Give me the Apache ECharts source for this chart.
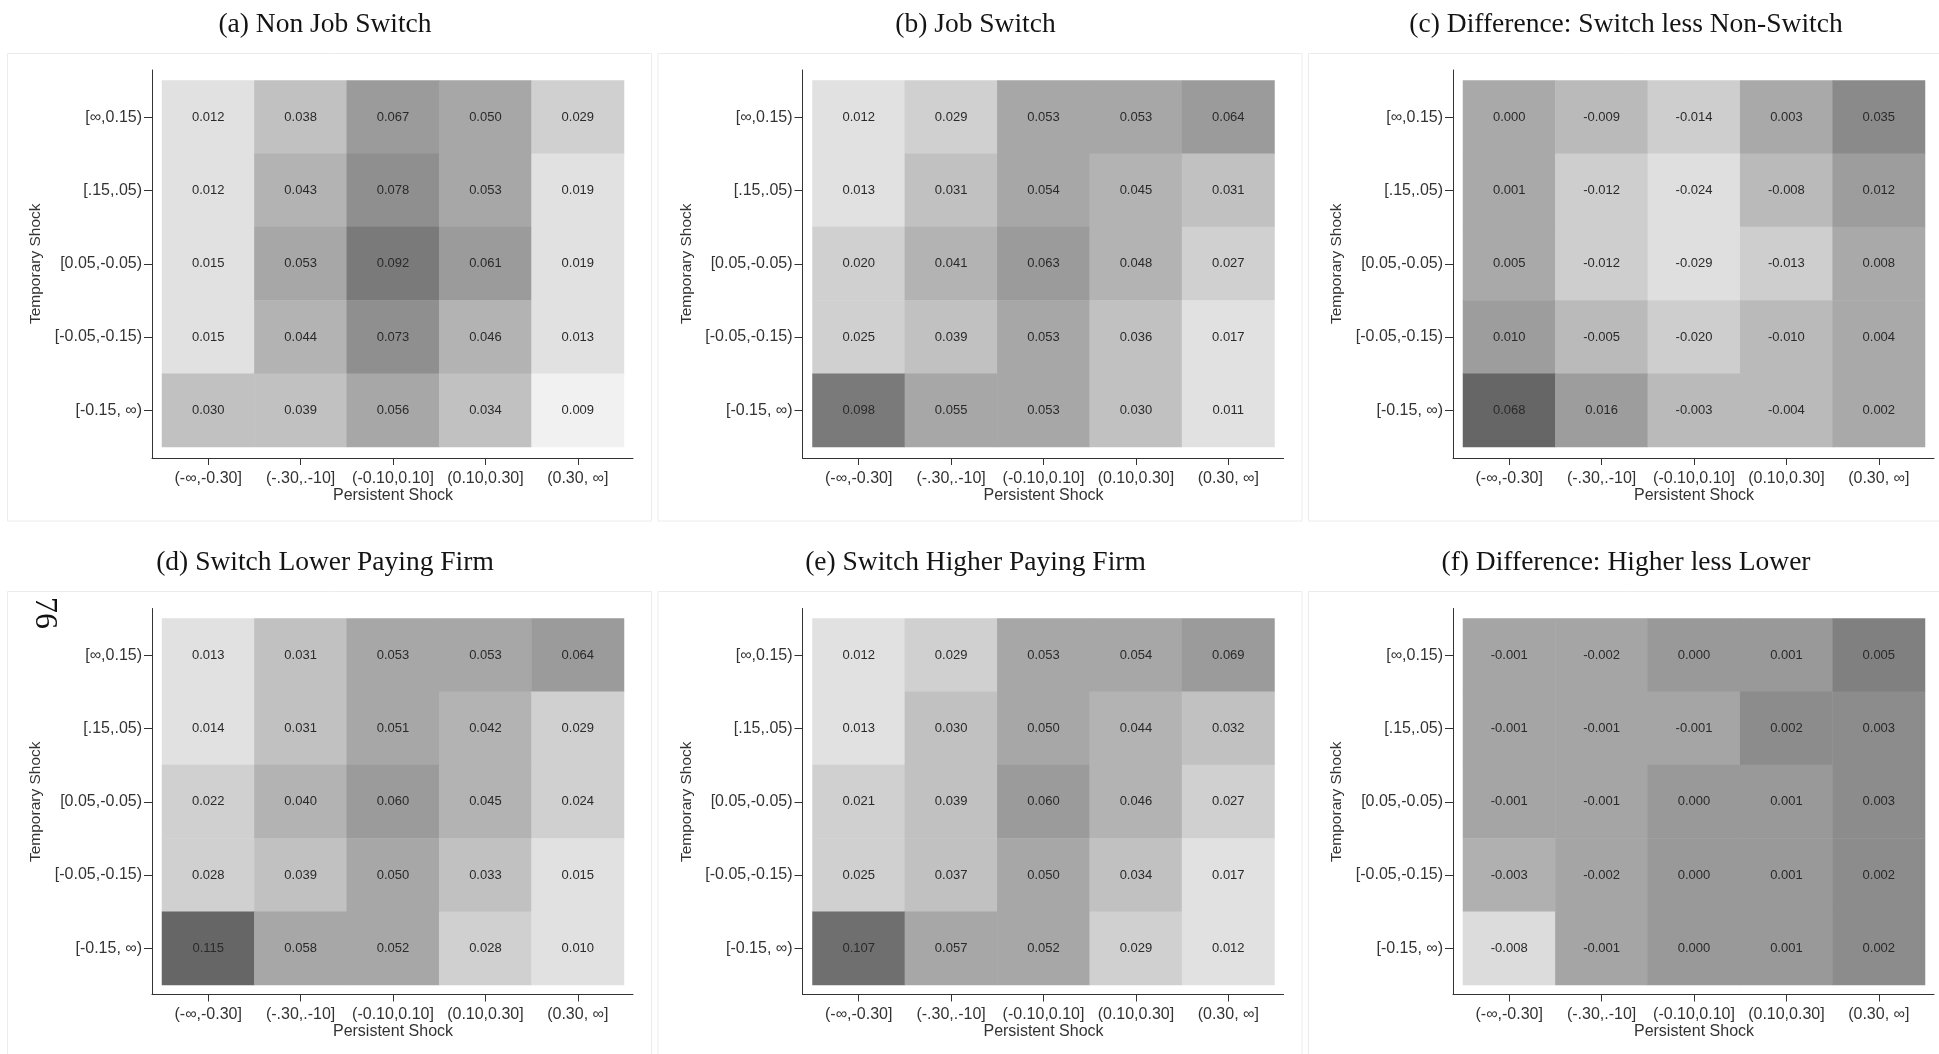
<!DOCTYPE html>
<html>
<head>
<meta charset="utf-8">
<script src="https://cdn.jsdelivr.net/npm/echarts@6/dist/echarts.min.js"></script>
<style>
  html, body { margin: 0; padding: 0; background: #ffffff; }
  #chart { width: 1939px; height: 1054px; }
</style>
</head>
<body>
<div id="chart"></div>
<script>
// Shock bins
const persistentBins = ['(-∞,-0.30]', '(-.30,.-10]', '(-0.10,0.10]', '(0.10,0.30]', '(0.30, ∞]'];
const temporaryBins = ['[∞,0.15)', '[.15,.05)', '[0.05,-0.05)', '[-0.05,-0.15)', '[-0.15, ∞)'];

// Shares by temporary-shock row (top to bottom) and persistent-shock column
const nonJobSwitch = [
  [0.012, 0.038, 0.067, 0.050, 0.029],
  [0.012, 0.043, 0.078, 0.053, 0.019],
  [0.015, 0.053, 0.092, 0.061, 0.019],
  [0.015, 0.044, 0.073, 0.046, 0.013],
  [0.030, 0.039, 0.056, 0.034, 0.009]
];
const jobSwitch = [
  [0.012, 0.029, 0.053, 0.053, 0.064],
  [0.013, 0.031, 0.054, 0.045, 0.031],
  [0.020, 0.041, 0.063, 0.048, 0.027],
  [0.025, 0.039, 0.053, 0.036, 0.017],
  [0.098, 0.055, 0.053, 0.030, 0.011]
];
const switchLessNonSwitch = [
  [0.000, -0.009, -0.014, 0.003, 0.035],
  [0.001, -0.012, -0.024, -0.008, 0.012],
  [0.005, -0.012, -0.029, -0.013, 0.008],
  [0.010, -0.005, -0.020, -0.010, 0.004],
  [0.068, 0.016, -0.003, -0.004, 0.002]
];
const switchLowerPaying = [
  [0.013, 0.031, 0.053, 0.053, 0.064],
  [0.014, 0.031, 0.051, 0.042, 0.029],
  [0.022, 0.040, 0.060, 0.045, 0.024],
  [0.028, 0.039, 0.050, 0.033, 0.015],
  [0.115, 0.058, 0.052, 0.028, 0.010]
];
const switchHigherPaying = [
  [0.012, 0.029, 0.053, 0.054, 0.069],
  [0.013, 0.030, 0.050, 0.044, 0.032],
  [0.021, 0.039, 0.060, 0.046, 0.027],
  [0.025, 0.037, 0.050, 0.034, 0.017],
  [0.107, 0.057, 0.052, 0.029, 0.012]
];
const higherLessLower = [
  [-0.001, -0.002, 0.000, 0.001, 0.005],
  [-0.001, -0.001, -0.001, 0.002, 0.003],
  [-0.001, -0.001, 0.000, 0.001, 0.003],
  [-0.003, -0.002, 0.000, 0.001, 0.002],
  [-0.008, -0.001, 0.000, 0.001, 0.002]
];

// Grey shading steps
const shareEdges = [0, 0.01, 0.02, 0.03, 0.04, 0.05, 0.06, 0.07, 0.08, 0.09, 0.10, 0.11, 0.12];
const shareGreys = ['#f1f1f1', '#e1e1e1', '#d0d0d0', '#c1c1c1', '#b3b3b3', '#a7a7a7', '#9b9b9b', '#8f8f8f', '#848484', '#7a7a7a', '#6f6f6f', '#666666'];
const switchDiffEdges = [-0.03, -0.02, -0.01, 0, 0.01, 0.02, 0.03, 0.04, 0.05, 0.06, 0.07];
const switchDiffGreys = ['#dfdfdf', '#cecece', '#bababa', '#a9a9a9', '#9d9d9d', '#939393', '#8a8a8a', '#7e7e7e', '#727272', '#666666'];
const firmDiffEdges = [-0.01, -0.0055, -0.0025, -0.0005, 0.0015, 0.004, 0.01];
const firmDiffGreys = ['#dcdcdc', '#b0b0b0', '#a5a5a5', '#999999', '#8c8c8c', '#808080'];

const panels = [
  { title: '(a) Non Job Switch', values: nonJobSwitch, col: 0, row: 0 },
  { title: '(b) Job Switch', values: jobSwitch, col: 1, row: 0 },
  { title: '(c) Difference: Switch less Non-Switch', values: switchLessNonSwitch, col: 2, row: 0 },
  { title: '(d) Switch Lower Paying Firm', values: switchLowerPaying, col: 0, row: 1 },
  { title: '(e) Switch Higher Paying Firm', values: switchHigherPaying, col: 1, row: 1 },
  { title: '(f) Difference: Higher less Lower', values: higherLessLower, col: 2, row: 1 }
];

// Page geometry
const colShift = [0, 650.5, 1301];
const rowGeom = [
  { titleY: 25, boxTop: 53, boxBottom: 520.5, axisTop: 70, cellTop: 80.5, cellBottom: 447, axisY: 458 },
  { titleY: 563, boxTop: 591, boxBottom: 1080, axisTop: 608.5, cellTop: 618.5, cellBottom: 985, axisY: 994.5 }
];
const base = { boxLeft: 7, boxRight: 651, titleX: 325, yAxisX: 152, cellLeft: 162, cellRight: 624, axisRight: 633 };

const SANS = '"Liberation Sans", Arial, sans-serif';
const SERIF = '"Liberation Serif", "Times New Roman", serif';
const INK = '#333333';

function piecesFrom(edges, greys) {
  return greys.map((c, i) => ({ gte: edges[i], lt: edges[i + 1], color: c }));
}

const grid = [], xAxis = [], yAxis = [], series = [], graphic = [];

panels.forEach((p, i) => {
  const dx = colShift[p.col];
  const r = rowGeom[p.row];
  const yAxisX = base.yAxisX + dx;
  const cellLeft = base.cellLeft + dx;
  const cellRight = base.cellRight + dx;
  const axisRight = base.axisRight + dx;

  // cell area
  grid.push({ left: cellLeft, top: r.cellTop, width: cellRight - cellLeft, height: r.cellBottom - r.cellTop, containLabel: false });
  // axis frame
  grid.push({ left: yAxisX, top: r.axisTop, width: axisRight - yAxisX, height: r.axisY - r.axisTop, containLabel: false });

  const g = 2 * i;
  xAxis.push({
    type: 'category', gridIndex: g, data: persistentBins, position: 'bottom',
    offset: r.axisY - r.cellBottom,
    axisLine: { show: false },
    axisTick: { show: true, alignWithLabel: true, length: 7, lineStyle: { color: INK, width: 1 } },
    axisLabel: { interval: 0, margin: 12.5, color: INK, fontSize: 16, fontFamily: SANS },
    splitLine: { show: false },
    name: 'Persistent Shock', nameLocation: 'middle', nameGap: 27,
    nameTextStyle: { color: INK, fontSize: 16, fontFamily: SANS }
  });
  yAxis.push({
    type: 'category', gridIndex: g, data: temporaryBins, inverse: true, position: 'left',
    offset: cellLeft - yAxisX,
    axisLine: { show: false },
    axisTick: { show: true, alignWithLabel: true, length: 8, lineStyle: { color: INK, width: 1 } },
    axisLabel: { interval: 0, margin: 10, color: INK, fontSize: 16, fontFamily: SANS },
    splitLine: { show: false },
    name: 'Temporary Shock', nameLocation: 'middle', nameGap: 108,
    nameTextStyle: { color: INK, fontSize: 15.5, fontFamily: SANS }
  });
  xAxis.push({
    type: 'value', gridIndex: g + 1, min: 0, max: 1,
    axisLine: { show: true, onZero: false, lineStyle: { color: INK, width: 1 } },
    axisTick: { show: false }, axisLabel: { show: false }, splitLine: { show: false }
  });
  yAxis.push({
    type: 'value', gridIndex: g + 1, min: 0, max: 1,
    axisLine: { show: true, onZero: false, lineStyle: { color: INK, width: 1 } },
    axisTick: { show: false }, axisLabel: { show: false }, splitLine: { show: false }
  });

  const data = [];
  p.values.forEach((rowVals, ri) => rowVals.forEach((v, ci) => data.push([ci, ri, v])));
  series.push({
    type: 'heatmap', name: p.title, xAxisIndex: g, yAxisIndex: g, data: data,
    label: {
      show: true, color: '#2a2a2a', fontSize: 13, fontFamily: SANS,
      formatter: (q) => q.value[2].toFixed(3)
    },
    emphasis: { disabled: true }
  });

  // panel outline and heading
  graphic.push({
    type: 'rect', silent: true, z: 0,
    shape: { x: base.boxLeft + dx + 0.5, y: r.boxTop + 0.5, width: base.boxRight - base.boxLeft, height: r.boxBottom - r.boxTop },
    style: { fill: 'none', stroke: '#ececec', lineWidth: 1 }
  });
  graphic.push({
    type: 'text', silent: true,
    style: {
      text: p.title, x: base.titleX + dx, y: r.titleY,
      align: 'center', verticalAlign: 'middle',
      font: '27.5px ' + SERIF, fill: '#141414'
    }
  });
});

// page number printed along the margin
graphic.push({
  type: 'text', silent: true, x: 44, y: 613, rotation: -Math.PI / 2,
  style: { text: '76', x: 0, y: 0, align: 'center', verticalAlign: 'middle', font: '32px ' + SERIF, fill: '#111111' }
});

const chart = echarts.init(document.getElementById('chart'), null, { renderer: 'canvas' });
chart.setOption({
  animation: false,
  backgroundColor: '#ffffff',
  grid: grid,
  xAxis: xAxis,
  yAxis: yAxis,
  visualMap: [
    { type: 'piecewise', show: false, seriesIndex: [0, 1, 3, 4], dimension: 2, pieces: piecesFrom(shareEdges, shareGreys) },
    { type: 'piecewise', show: false, seriesIndex: 2, dimension: 2, pieces: piecesFrom(switchDiffEdges, switchDiffGreys) },
    { type: 'piecewise', show: false, seriesIndex: 5, dimension: 2, pieces: piecesFrom(firmDiffEdges, firmDiffGreys) }
  ],
  graphic: graphic,
  series: series
});
</script>
</body>
</html>
